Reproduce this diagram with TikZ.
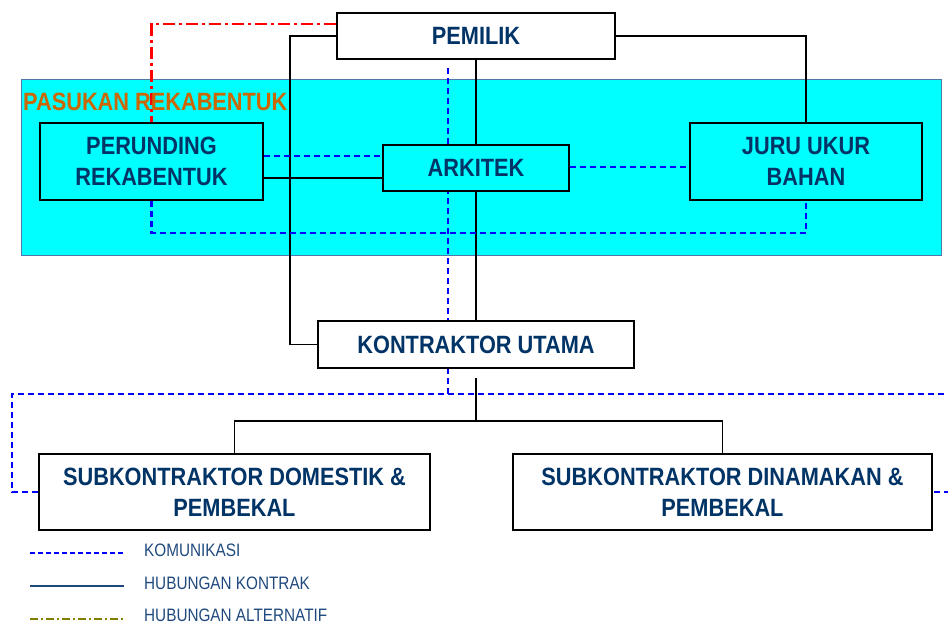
\documentclass[tikz,border=0pt]{standalone}
\usepackage{fontspec}
\setmainfont{Liberation Sans}[FakeStretch=0.85, BoldFeatures={FakeStretch=0.87}]
\usetikzlibrary{calc}
\pgfdeclarelayer{bandlayer}
\pgfdeclarelayer{linelayer}
\pgfsetlayers{bandlayer,linelayer,main}
\definecolor{boxtext}{RGB}{0,51,102}
\definecolor{legtext}{RGB}{31,73,125}
\definecolor{teamorange}{RGB}{204,102,0}
\definecolor{bandcyan}{RGB}{0,255,255}
\definecolor{bandedge}{RGB}{80,120,170}
\definecolor{commblue}{RGB}{0,0,255}
\definecolor{altred}{RGB}{255,0,0}
\definecolor{altolive}{RGB}{128,128,0}
\tikzset{
  orgbox/.style={draw=black, line width=2.4pt, inner sep=0pt, align=center,
    text=boxtext, font=\fontsize{25}{31}\selectfont\bfseries},
  whitebox/.style={orgbox, fill=white},
  cyanbox/.style={orgbox, fill=bandcyan},
  contract/.style={draw=black, line width=1.5pt},
  comm/.style={draw=commblue, line width=2.6pt, dash pattern=on 6pt off 4pt},
  altline/.style={draw=altred, line width=2.6pt, dash pattern=on 12pt off 4pt on 3pt off 4pt},
  legendtxt/.style={anchor=base west, inner sep=0pt, text=legtext, font=\fontsize{18}{20}\selectfont},
}
\begin{document}
\begin{tikzpicture}[x=1pt, y=-1pt]
\useasboundingbox (0,0) rectangle (948,623);

% cyan band
\begin{pgfonlayer}{bandlayer}
\fill[bandcyan, draw=bandedge, line width=0.9pt] (21,79) rectangle (941,255);
\end{pgfonlayer}
\node[anchor=base west, inner sep=0pt, text=teamorange, font=\fontsize{25}{30}\selectfont\bfseries] (team) at (23,111) {PASUKAN REKABENTUK};

% boxes
\node[whitebox, minimum width=278pt, minimum height=46pt] (pemilik) at (476,36) {PEMILIK};
\node[cyanbox, minimum width=223pt, minimum height=77pt] (perunding) at (151.5,161.5) {PERUNDING\\REKABENTUK};
\node[cyanbox, minimum width=186pt, minimum height=46pt] (arkitek) at (476,168) {ARKITEK};
\node[cyanbox, minimum width=232pt, minimum height=77pt] (juru) at (806,161.5) {JURU UKUR\\BAHAN};
\node[whitebox, minimum width=316pt, minimum height=47pt] (kontraktor) at (476,344.5) {KONTRAKTOR UTAMA};
\node[whitebox, minimum width=391pt, minimum height=76pt] (subdom) at (234.5,492) {SUBKONTRAKTOR DOMESTIK \&\\PEMBEKAL};
\node[whitebox, minimum width=419pt, minimum height=76pt] (subdin) at (722.5,492) {SUBKONTRAKTOR DINAMAKAN \&\\PEMBEKAL};

% helper coordinates
\coordinate (cleft) at (290,36);
\coordinate (yprk) at (0,178);
\coordinate (ypc) at (0,156);
\coordinate (yaj) at (0,167);
\coordinate (ybot) at (0,233);
\coordinate (vtop) at (448,68);
\coordinate (vbot) at (448,394);
\coordinate (dleft) at (12,394);
\coordinate (dright) at (960,394);
\coordinate (yred) at (0,24);
\coordinate (tmid) at (476,421);

\begin{pgfonlayer}{linelayer}
% contract lines
\draw[contract] (pemilik.west) -- (cleft) |- (kontraktor.west);
\draw[contract] (pemilik.east) -| (juru.north);
\draw[contract] (pemilik.south) -- (arkitek.north);
\draw[contract] (arkitek.south) -- (kontraktor.north);
\draw[contract] (perunding.east |- yprk) -- (arkitek.west |- yprk);
\draw[contract, shorten <=9pt] (kontraktor.south) -- (tmid);
\draw[contract] (subdom.north) |- (tmid) -| (subdin.north);
% communication lines
\draw[comm] (perunding.east |- ypc) -- (arkitek.west |- ypc);
\draw[comm] (arkitek.east |- yaj) -- (juru.west |- yaj);
\draw[comm] (perunding.south) -- (perunding.south |- ybot) -| (juru.south);
\draw[comm] (vtop) -- (vbot);
\draw[comm] (subdom.west) -| (dleft) -- (dright) |- (subdin.east);
% alternative line
\draw[altline] (pemilik.west |- yred) -| (perunding.north);
\end{pgfonlayer}

% legend
\coordinate (l1a) at (30,553);
\coordinate (l1b) at (124,553);
\coordinate (l2a) at (30,586);
\coordinate (l2b) at (124,586);
\coordinate (l3a) at (30,619);
\coordinate (l3b) at (124,619);
\draw[draw=commblue, line width=2.4pt, dash pattern=on 5pt off 3pt] (l1a) -- (l1b);
\draw[draw=legtext, line width=1.5pt] (l2a) -- (l2b);
\draw[draw=altolive, line width=2.4pt, dash pattern=on 8pt off 3pt on 2pt off 3pt] (l3a) -- (l3b);
\node[legendtxt] (lg1) at (144,556) {KOMUNIKASI};
\node[legendtxt] (lg2) at (144,589) {HUBUNGAN KONTRAK};
\node[legendtxt] (lg3) at (144,621) {HUBUNGAN ALTERNATIF};
\end{tikzpicture}
\end{document}
